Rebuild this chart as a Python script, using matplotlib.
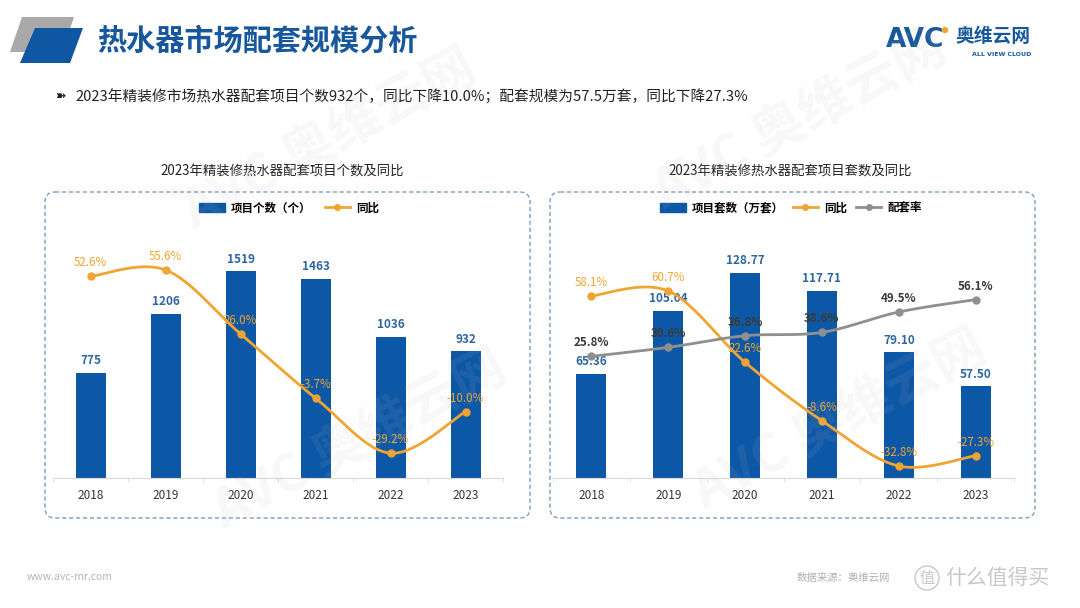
import numpy as np
import matplotlib
matplotlib.use("Agg")
import matplotlib.pyplot as plt
from matplotlib.patches import Polygon, FancyBboxPatch, Patch, Circle
from matplotlib.lines import Line2D

plt.rcParams['font.family'] = ['Noto Sans CJK SC', 'DejaVu Sans']

# ---------------- data ----------------
years = ["2018", "2019", "2020", "2021", "2022", "2023"]
proj_count = [775, 1206, 1519, 1463, 1036, 932]
proj_count_yoy = [52.6, 55.6, 26.0, -3.7, -29.2, -10.0]
sets_count = [65.36, 105.04, 128.77, 117.71, 79.10, 57.50]
sets_yoy = [58.1, 60.7, 22.6, -8.6, -32.8, -27.3]
match_rate = [25.8, 30.6, 36.8, 38.6, 49.5, 56.1]

title_main = "热水器市场配套规模分析"
bullet_text = "2023年精装修市场热水器配套项目个数932个，同比下降10.0%；配套规模为57.5万套，同比下降27.3%"
left_title = "2023年精装修热水器配套项目个数及同比"
right_title = "2023年精装修热水器配套项目套数及同比"

BLUE = "#0d58a6"
BLUE_TXT = "#2d67a3"
ORANGE = "#f0a431"
GRAY = "#8f8f8f"

W, H = 1080, 608
fig = plt.figure(figsize=(W / 100, H / 100), dpi=100)
fig.patch.set_facecolor("white")

# background pixel axes
bg = fig.add_axes([0, 0, 1, 1])
bg.set_xlim(0, W)
bg.set_ylim(H, 0)
bg.axis("off")


def px_axes(left, top, right, bottom):
    return fig.add_axes([left / W, 1 - bottom / H, (right - left) / W, (bottom - top) / H])


def smooth(xs, ys, n=30):
    """Catmull-Rom rendering path through the data points (Excel-like smoothed line)."""
    P = np.column_stack([xs, ys]).astype(float)
    P = np.vstack([P[0], P, P[-1]])
    out = []
    t = np.linspace(0, 1, n)
    for i in range(1, len(P) - 2):
        p0, p1, p2, p3 = P[i - 1], P[i], P[i + 1], P[i + 2]
        c1 = p1 + (p2 - p0) / 6
        c2 = p2 - (p3 - p1) / 6
        seg = ((1 - t) ** 3)[:, None] * p1 + (3 * (1 - t) ** 2 * t)[:, None] * c1 \
            + (3 * (1 - t) * t ** 2)[:, None] * c2 + (t ** 3)[:, None] * p2
        out.append(seg if i == 1 else seg[1:])
    s = np.vstack(out)
    return s[:, 0], s[:, 1]


# ---------------- header ----------------
bg.add_patch(Polygon([[22, 17], [74, 17], [62, 52], [10, 52]], closed=True,
                     facecolor="#a9a9a9", edgecolor="none"))
bg.add_patch(Polygon([[35, 28], [83, 28], [70, 63], [20, 63]], closed=True,
                     facecolor="#0f57a2", edgecolor="none"))
bg.text(97, 41, title_main, fontsize=21, fontweight="bold", color="#17579c",
        va="center", ha="left")

# logo
bg.text(915, 40, "AVC", fontsize=19, fontweight="heavy", color="#17579c",
        va="center", ha="center", family="DejaVu Sans")
bg.add_patch(Circle((945, 30), 2.5, color="#f0a431"))
bg.text(955, 37, "奥维云网", fontsize=13.5, fontweight="bold", color="#17579c",
        va="center", ha="left")
bg.text(1002, 54, "ALL VIEW CLOUD", fontsize=4.5, fontweight="bold", color="#17579c",
        va="center", ha="center", family="DejaVu Sans")

# bullet line
bg.text(55, 97, "➽", fontsize=9, color="#222222", va="center", ha="left",
        family=["DejaVu Sans"])
bg.text(75, 97, bullet_text, fontsize=10.6, color="#222222", va="center", ha="left")

# panel titles
bg.text(282, 172, left_title, fontsize=9.6, color="#222222", va="center", ha="center")
bg.text(790, 172, right_title, fontsize=9.6, color="#222222", va="center", ha="center")

# dashed boxes
for x0, x1 in [(45, 530), (550, 1035)]:
    bg.add_patch(FancyBboxPatch((x0, 192), x1 - x0, 326,
                                boxstyle="round,pad=0,rounding_size=10",
                                fill=False, edgecolor="#7c9cc4", linestyle=(0, (3, 2)),
                                linewidth=1.0))

# footer
bg.text(27, 577, "www.avc-mr.com", fontsize=7.5, color="#b5b5b5", va="center", ha="left")
bg.text(797, 578, "数据来源：奥维云网", fontsize=7.5, color="#b0b0b0", va="center", ha="left")
bg.add_patch(Circle((927, 578), 12, fill=False, edgecolor="#c8c8c8", linewidth=1))
bg.text(927, 578, "值", fontsize=11, color="#c8c8c8", va="center", ha="center")
bg.text(945, 578, "什么值得买", fontsize=15, color="#c8c8c8", va="center", ha="left")


def style_axes(ax, n):
    ax.set_xlim(-0.5, n - 0.5)
    ax.set_facecolor("none")
    for s in ["top", "right", "left"]:
        ax.spines[s].set_visible(False)
    ax.spines["bottom"].set_color("#d9d9d9")
    ax.set_yticks([])
    ax.set_xticks(range(n))
    ax.set_xticklabels(years, fontsize=8.5, color="#333333")
    ax.tick_params(axis="x", length=0, pad=8)
    ax.set_xticks(np.arange(-0.5, n, 1.0), minor=True)
    ax.tick_params(axis="x", which="minor", length=3, color="#d9d9d9")


x = np.arange(len(years))

# ---------------- left chart ----------------
axL = px_axes(53, 233, 503, 478)
style_axes(axL, len(years))
axL.bar(x, proj_count, width=0.4, color=BLUE, zorder=2)
axL.set_ylim(0, 1800)
for xi, v in zip(x, proj_count):
    axL.annotate(f"{v}", (xi, v), xytext=(0, 4), textcoords="offset points",
                 ha="center", va="bottom", fontsize=8.5, fontweight="bold", color=BLUE_TXT)
axL2 = axL.twinx()
axL2.set_ylim(-40.7, 72.7)
axL2.axis("off")
sx, sy = smooth(x, proj_count_yoy)
axL2.plot(sx, sy, color=ORANGE, lw=2, zorder=3)
axL2.plot(x, proj_count_yoy, "o", color=ORANGE, ms=5, zorder=4)
for xi, v in zip(x, proj_count_yoy):
    axL2.annotate(f"{v:.1f}%", (xi, v), xytext=(0, 5), textcoords="offset points",
                  ha="center", va="bottom", fontsize=8.3, color=ORANGE)
axL.legend([Patch(color=BLUE), Line2D([], [], color=ORANGE, lw=2, marker="o", ms=4)],
           ["项目个数（个）", "同比"], ncol=2, loc="center",
           bbox_to_anchor=(289 / W, 1 - 208 / H), bbox_transform=fig.transFigure,
           frameon=False, prop={"size": 8.3, "weight": "bold"},
           handlelength=2.2, handleheight=0.8, columnspacing=1.2, handletextpad=0.5)

# ---------------- right chart ----------------
axR = px_axes(553, 233, 1014, 478)
style_axes(axR, len(years))
axR.bar(x, sets_count, width=0.39, color=BLUE, zorder=2)
axR.set_ylim(0, 153.9)
for xi, v in zip(x, sets_count):
    axR.annotate(f"{v:.2f}", (xi, v), xytext=(0, 4), textcoords="offset points",
                 ha="center", va="bottom", fontsize=8.5, fontweight="bold", color=BLUE_TXT)
axR2 = axR.twinx()
axR2.set_ylim(-39.2, 91.7)
axR2.axis("off")
sx, sy = smooth(x, sets_yoy)
axR2.plot(sx, sy, color=ORANGE, lw=2, zorder=3)
axR2.plot(x, sets_yoy, "o", color=ORANGE, ms=5, zorder=4)
sx, sy = smooth(x, match_rate)
axR2.plot(sx, sy, color=GRAY, lw=2, zorder=3)
axR2.plot(x, match_rate, "o", color=GRAY, ms=5, zorder=4)
for xi, v in zip(x, sets_yoy):
    axR2.annotate(f"{v:.1f}%", (xi, v), xytext=(0, 5), textcoords="offset points",
                  ha="center", va="bottom", fontsize=8.3, color=ORANGE)
for xi, v in zip(x, match_rate):
    axR2.annotate(f"{v:.1f}%", (xi, v), xytext=(0, 5), textcoords="offset points",
                  ha="center", va="bottom", fontsize=8.3, fontweight="bold", color="#3a3a3a")
axR.legend([Patch(color=BLUE), Line2D([], [], color=ORANGE, lw=2, marker="o", ms=4),
            Line2D([], [], color=GRAY, lw=2, marker="o", ms=4)],
           ["项目套数（万套）", "同比", "配套率"], ncol=3, loc="center",
           bbox_to_anchor=(791 / W, 1 - 208 / H), bbox_transform=fig.transFigure,
           frameon=False, prop={"size": 8.3, "weight": "bold"},
           handlelength=2.2, handleheight=0.8, columnspacing=0.8, handletextpad=0.5)

# ---------------- faint watermarks ----------------
for (wx, wy) in [(360, 440), (840, 420), (330, 140), (800, 120)]:
    fig.text(wx / W, 1 - wy / H, "AVC 奥维云网", fontsize=38, fontweight="bold",
             color="#bdbdbd", alpha=0.10, rotation=28, ha="center", va="center",
             zorder=10)

fig.savefig("out.png", dpi=100)
